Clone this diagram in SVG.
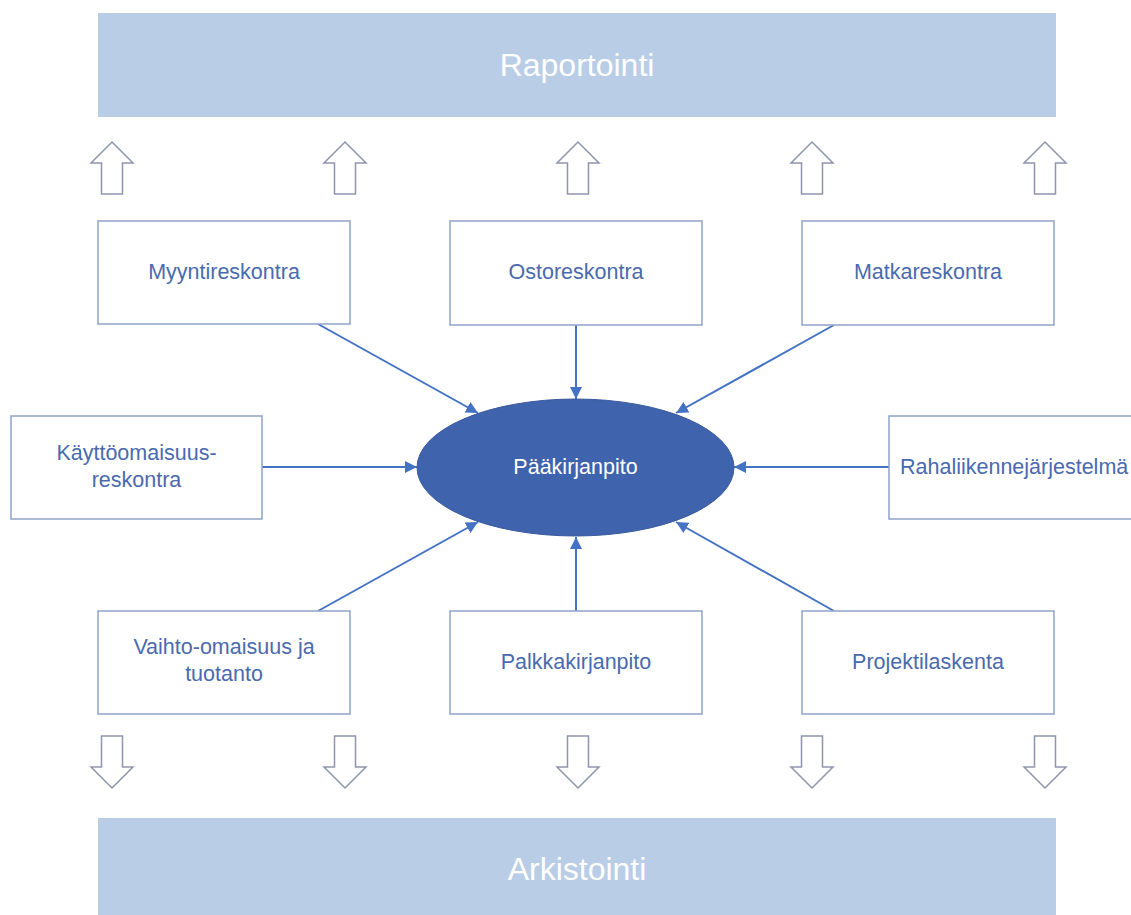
<svg xmlns="http://www.w3.org/2000/svg" width="1131" height="915" viewBox="0 0 1131 915">
<defs>
<style>
.band{fill:#B9CDE7;}
.bandtxt{font-family:"Liberation Sans",Arial,sans-serif;font-size:32px;fill:#FFFFFF;text-anchor:middle;}
.box{fill:#FFFFFF;stroke:#8FA2C9;stroke-width:1.5;}
.txt{font-family:"Liberation Sans",Arial,sans-serif;font-size:21.5px;fill:#4A6AAF;text-anchor:middle;}
.bigarrow{fill:#FFFFFF;stroke:#8E95AE;stroke-width:1.5;stroke-linejoin:miter;}
.conn{stroke:#4472C4;stroke-width:2;fill:none;marker-end:url(#ah);}
</style>
<marker id="ah" viewBox="0 0 10 10" refX="10" refY="5" markerWidth="6" markerHeight="6" markerUnits="strokeWidth" orient="auto">
<path d="M0,0 L10,5 L0,10 z" fill="#4472C4"/>
</marker>
<path id="up" d="M0,0 L21,21 L10.5,21 L10.5,52 L-10.5,52 L-10.5,21 L-21,21 z"/>
<path id="down" d="M0,0 L21,-21 L10.5,-21 L10.5,-52 L-10.5,-52 L-10.5,-21 L-21,-21 z"/>
</defs>
<rect width="1131" height="915" fill="#FFFFFF"/>
<g id="raportointi">
<rect class="band" x="98" y="13" width="958" height="104"/>
<text class="bandtxt" x="577" y="76">Raportointi</text>
</g>
<g id="arkistointi">
<rect class="band" x="98" y="818" width="958" height="97"/>
<text class="bandtxt" x="577" y="880">Arkistointi</text>
</g>
<g id="up-arrows">
<use href="#up" class="bigarrow" x="112" y="142"/>
<use href="#up" class="bigarrow" x="345" y="142"/>
<use href="#up" class="bigarrow" x="578" y="142"/>
<use href="#up" class="bigarrow" x="812" y="142"/>
<use href="#up" class="bigarrow" x="1045" y="142"/>
</g>
<g id="down-arrows">
<use href="#down" class="bigarrow" x="112" y="788"/>
<use href="#down" class="bigarrow" x="345" y="788"/>
<use href="#down" class="bigarrow" x="578" y="788"/>
<use href="#down" class="bigarrow" x="812" y="788"/>
<use href="#down" class="bigarrow" x="1045" y="788"/>
</g>
<g id="connectors">
<line class="conn" x1="318" y1="324" x2="478" y2="413"/>
<line class="conn" x1="576" y1="325" x2="576" y2="399"/>
<line class="conn" x1="834" y1="325" x2="676" y2="413"/>
<line class="conn" x1="262" y1="467" x2="417" y2="467"/>
<line class="conn" x1="889" y1="467" x2="734" y2="467"/>
<line class="conn" x1="318" y1="611" x2="478" y2="522"/>
<line class="conn" x1="576" y1="611" x2="576" y2="537"/>
<line class="conn" x1="834" y1="611" x2="676" y2="522"/>
</g>
<g id="myyntireskontra">
<rect class="box" x="98" y="221" width="252" height="103"/>
<text class="txt" x="224" y="279">Myyntireskontra</text>
</g>
<g id="ostoreskontra">
<rect class="box" x="450" y="221" width="252" height="104"/>
<text class="txt" x="576" y="279">Ostoreskontra</text>
</g>
<g id="matkareskontra">
<rect class="box" x="802" y="221" width="252" height="104"/>
<text class="txt" x="928" y="279">Matkareskontra</text>
</g>
<g id="kayttoomaisuusreskontra">
<rect class="box" x="11" y="416" width="251" height="103"/>
<text class="txt" x="136.5" y="460">Käyttöomaisuus-</text>
<text class="txt" x="136.5" y="487">reskontra</text>
</g>
<g id="paakirjanpito">
<ellipse cx="575.5" cy="467.5" rx="158.5" ry="68.5" fill="#3F63AD" stroke="#3A5A9E" stroke-width="1"/>
<text x="575.5" y="474" style="font-family:'Liberation Sans',Arial,sans-serif;font-size:21.5px;fill:#FFFFFF;text-anchor:middle;">Pääkirjanpito</text>
</g>
<g id="rahaliikennejarjestelma">
<rect class="box" x="889" y="416" width="260" height="103"/>
<text class="txt" x="900" y="474" style="text-anchor:start">Rahaliikennejärjestelmä</text>
</g>
<g id="vaihto-omaisuus">
<rect class="box" x="98" y="611" width="252" height="103"/>
<text class="txt" x="224" y="654">Vaihto-omaisuus ja</text>
<text class="txt" x="224" y="681">tuotanto</text>
</g>
<g id="palkkakirjanpito">
<rect class="box" x="450" y="611" width="252" height="103"/>
<text class="txt" x="576" y="669">Palkkakirjanpito</text>
</g>
<g id="projektilaskenta">
<rect class="box" x="802" y="611" width="252" height="103"/>
<text class="txt" x="928" y="669">Projektilaskenta</text>
</g>
</svg>
